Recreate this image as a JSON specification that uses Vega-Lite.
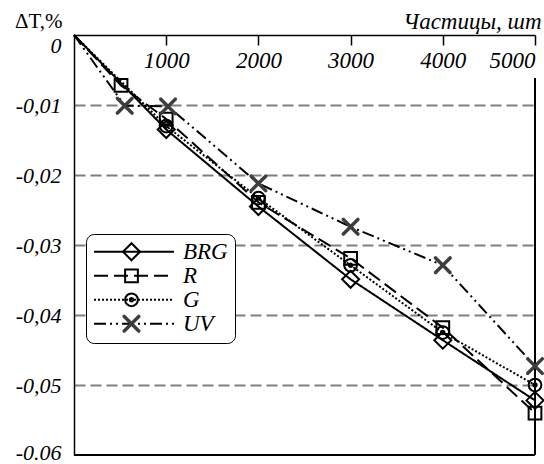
{
  "$schema": "https://vega.github.io/schema/vega-lite/v6.json",
  "width": 461,
  "height": 420,
  "autosize": {"type": "none"},
  "padding": {"left": 74, "top": 35, "right": 9, "bottom": 9},
  "background": "white",
  "config": {"view": {"stroke": null}, "font": "Liberation Serif"},
  "data": {"values": [
    {"x": 0, "y": 0, "s": "BRG"},
    {"x": 1000, "y": -0.0135, "s": "BRG"},
    {"x": 2000, "y": -0.0245, "s": "BRG"},
    {"x": 3000, "y": -0.0349, "s": "BRG"},
    {"x": 4000, "y": -0.0436, "s": "BRG"},
    {"x": 5000, "y": -0.0522, "s": "BRG"},
    {"x": 0, "y": 0, "s": "R"},
    {"x": 510, "y": -0.0072, "s": "R"},
    {"x": 1000, "y": -0.012, "s": "R"},
    {"x": 2000, "y": -0.0239, "s": "R"},
    {"x": 3000, "y": -0.0319, "s": "R"},
    {"x": 4000, "y": -0.0418, "s": "R"},
    {"x": 5000, "y": -0.054, "s": "R"},
    {"x": 0, "y": 0, "s": "G"},
    {"x": 1000, "y": -0.013, "s": "G"},
    {"x": 2000, "y": -0.0233, "s": "G"},
    {"x": 3000, "y": -0.0329, "s": "G"},
    {"x": 4000, "y": -0.0425, "s": "G"},
    {"x": 5000, "y": -0.05, "s": "G"},
    {"x": 0, "y": 0, "s": "UV"},
    {"x": 550, "y": -0.0101, "s": "UV"},
    {"x": 1020, "y": -0.0102, "s": "UV"},
    {"x": 2000, "y": -0.0212, "s": "UV"},
    {"x": 3000, "y": -0.0274, "s": "UV"},
    {"x": 4000, "y": -0.0329, "s": "UV"},
    {"x": 5000, "y": -0.0473, "s": "UV"}
  ]},
  "encoding": {
    "x": {"field": "x", "type": "quantitative",
      "scale": {"domain": [0, 5000], "nice": false, "zero": false},
      "axis": {"orient": "bottom", "offset": -420, "values": [1000, 2000, 3000, 4000, 5000], "format": "d",
        "tickSize": 10, "tickWidth": 1.5, "tickColor": "black", "domainColor": "black", "domainWidth": 1.5,
        "labelFont": "Liberation Serif", "labelFontStyle": "italic", "labelFontSize": 23, "labelColor": "black", "labelPadding": 4,
        "grid": false,
        "title": "Частицы, шт", "titleFont": "Liberation Serif", "titleFontStyle": "italic", "titleFontWeight": "normal", "titleFontSize": 23, "titleColor": "black",
        "titleX": 467, "titleY": -7, "titleAlign": "right", "titleBaseline": "alphabetic"}},
    "y": {"field": "y", "type": "quantitative",
      "scale": {"domain": [-0.06, 0], "nice": false, "zero": false},
      "axis": {"values": [0, -0.01, -0.02, -0.03, -0.04, -0.05, -0.06], "ticks": false,
        "domainColor": "black", "domainWidth": 1.5, "labelPadding": 13,
        "labelFont": "Liberation Serif", "labelFontStyle": "italic", "labelFontSize": 22, "labelColor": "black",
        "labelExpr": "datum.value == 0 ? '0' : datum.value < -0.059 ? '-0.06' : '-' + replace(format(-datum.value, '.2f'), '.', ',')",
        "labelBaseline": {"condition": {"test": "datum.value == 0", "value": "top"}, "value": "middle"},
        "labelOffset": {"condition": {"test": "datum.value < -0.059", "value": -3}, "value": 0},
        "grid": true, "gridColor": "#808080", "gridWidth": 2, "gridDash": [11, 5],
        "gridOpacity": {"condition": {"test": "datum.value == 0 || datum.value < -0.059", "value": 0}, "value": 1},
        "title": "ΔT,%", "titleAngle": 0, "titleAlign": "right", "titleX": -12, "titleY": -8, "titleBaseline": "alphabetic",
        "titleFont": "Liberation Serif", "titleFontWeight": "normal", "titleFontSize": 21, "titleColor": "black"}}
  },
  "layer": [
    {
      "mark": {"type": "rule", "color": "black", "strokeWidth": 1.5},
      "encoding": {"x": {"datum": 0}, "x2": {"datum": 5000}, "y": {"datum": -0.06}}
    },
    {
      "mark": {"type": "rule", "color": "black", "strokeWidth": 1.5},
      "encoding": {"x": {"datum": 5000}, "y": {"datum": -0.0062}, "y2": {"datum": -0.06}}
    },
    {
      "mark": {"type": "line", "color": "black", "strokeWidth": 2, "interpolate": "linear"},
      "encoding": {
        "strokeDash": {"field": "s", "type": "nominal",
          "scale": {"domain": ["BRG", "R", "G", "UV"], "range": [[1, 0], [14, 6], [2, 2], [12, 4, 2, 4, 2, 4]]},
          "legend": {"orient": "none", "legendX": 12, "legendY": 199, "title": null, "zindex": 1,
            "symbolType": "stroke", "symbolSize": 6400, "symbolStrokeWidth": 2, "symbolStrokeColor": "black",
            "labelFont": "Liberation Serif", "labelFontStyle": "italic", "labelFontSize": 23, "labelColor": "black", "labelOffset": 8,
            "fillColor": "white", "strokeColor": "black", "cornerRadius": 8, "padding": 7, "clipHeight": 21.5, "rowPadding": 0}}
      }
    },
    {
      "transform": [{"filter": "datum.x > 0"}],
      "mark": {"type": "point", "filled": false, "size": 289, "strokeWidth": 2, "opacity": 1},
      "encoding": {
        "shape": {"field": "s", "type": "nominal", "sort": null,
          "scale": {"range": [
            "M0,-1L1,0L0,1L-1,0Z",
            "M-0.75,-0.75L0.75,-0.75L0.75,0.75L-0.75,0.75Z",
            "M0.75,0A0.75,0.75,0,1,1,-0.75,0A0.75,0.75,0,1,1,0.75,0Z M0.2,0A0.2,0.2,0,1,1,-0.2,0A0.2,0.2,0,1,1,0.2,0Z",
            "M-1,-1L1,1M-0.88,-1L1,0.88M-1,-0.88L0.88,1M-1,1L1,-1M-0.88,1L1,-0.88M-1,0.88L0.88,-1"
          ]},
          "legend": {"orient": "none", "legendX": 39, "legendY": 199, "title": null, "zindex": 2,
            "symbolSize": 289, "symbolStrokeWidth": 2, "symbolFillColor": "transparent", "labelExpr": "''",
            "labelFontSize": 23, "padding": 7, "clipHeight": 21.5, "rowPadding": 0}},
        "color": {"field": "s", "type": "nominal", "sort": null,
          "scale": {"range": ["black", "black", "black", "#3d3d3d"]},
          "legend": {"orient": "none", "legendX": 39, "legendY": 199, "title": null, "zindex": 2,
            "symbolSize": 289, "symbolStrokeWidth": 2, "symbolFillColor": "transparent", "labelExpr": "''",
            "labelFontSize": 23, "padding": 7, "clipHeight": 21.5, "rowPadding": 0}}
      }
    }
  ]
}
